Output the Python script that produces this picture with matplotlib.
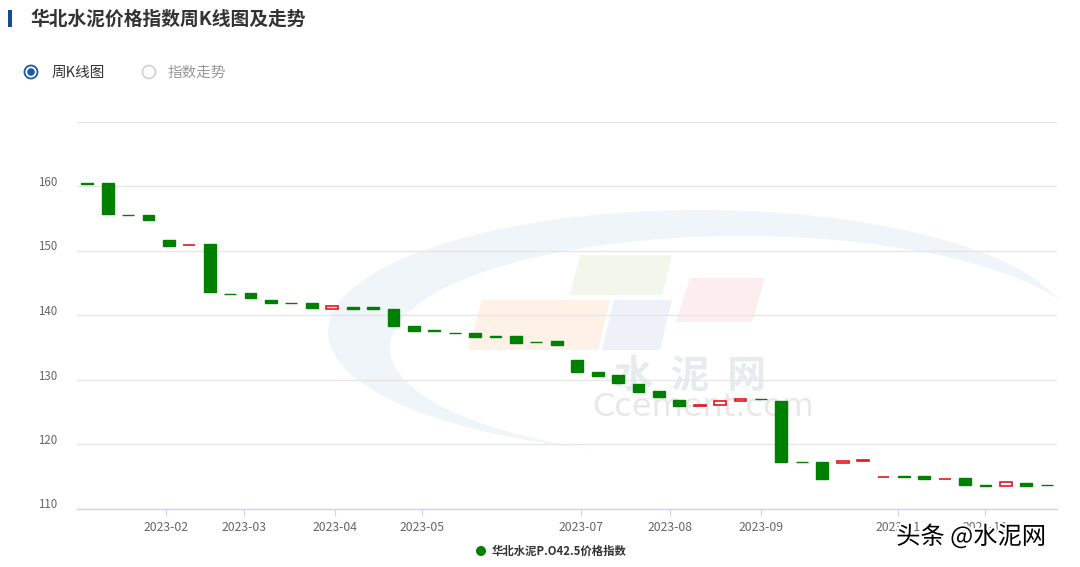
import matplotlib
matplotlib.use("Agg")
import matplotlib.pyplot as plt
import numpy as np
from matplotlib.patches import Circle, Rectangle, Polygon
from matplotlib.transforms import ScaledTranslation
import matplotlib.patheffects as pe

plt.rcParams['font.family'] = ['Noto Sans CJK SC', 'DejaVu Sans']

# ---------------- data ----------------
opens = [160.4, 160.5, 155.55, 155.5, 151.6, 150.8, 151.0, 143.3, 143.4, 142.4,
         141.9, 141.8, 140.9, 141.3, 141.3, 140.9, 138.35, 137.6, 137.2, 137.2,
         136.7, 136.75, 135.8, 135.9, 133.1, 131.2, 130.65, 129.3, 128.2, 126.8,
         125.9, 126.05, 126.6, 127.0, 126.7, 117.2, 117.25, 117.0, 117.35, 114.85,
         115.0, 115.0, 114.55, 114.7, 113.6, 113.5, 114.0, 113.65]
closes = [160.35, 155.6, 155.5, 154.7, 150.7, 150.9, 143.5, 143.25, 142.6, 141.9,
          141.85, 141.1, 141.35, 141.0, 140.9, 138.3, 137.5, 137.55, 137.15, 136.65,
          136.65, 135.6, 135.75, 135.35, 131.1, 130.6, 129.5, 128.1, 127.35, 125.9,
          126.1, 126.7, 127.0, 126.95, 117.2, 117.15, 114.5, 117.4, 117.45, 114.95,
          114.95, 114.5, 114.65, 113.6, 113.55, 114.1, 113.45, 113.6]
month_labels = ['2023-02', '2023-03', '2023-04', '2023-05', '2023-07',
                '2023-08', '2023-09', '2023-11', '2023-12']
month_tick_pos = [3.87, 7.68, 12.12, 16.40, 24.19, 28.54, 33.0, 39.71, 43.97]
y_ticks = [110, 120, 130, 140, 150, 160, 170]
series_name = '华北水泥P.O42.5价格指数'
title = '华北水泥价格指数周K线图及走势'

W, H = 1080, 567
fig = plt.figure(figsize=(W / 100, H / 100), dpi=100)
fig.patch.set_facecolor('white')

def P(x, y):
    return (x / W, 1 - y / H)

# ---------------- watermark (background) ----------------
bg = fig.add_axes([0, 0, 1, 1], zorder=0)
bg.set_xlim(0, W)
bg.set_ylim(H, 0)
bg.axis('off')
t = np.radians(np.linspace(25, 245, 120))
outer = np.c_[700 + 372 * np.cos(t), 332 - 122 * np.sin(t)]
inner = np.c_[742 + 352 * np.cos(t[::-1]), 348 - 112 * np.sin(t[::-1])]
bg.add_patch(Polygon(np.vstack([outer, inner]), closed=True, fc='#f0f5fa', ec='none'))
bg.add_patch(Polygon([(482, 300), (610, 300), (598, 350), (468, 350)], fc='#fdf1e8', ec='none'))
bg.add_patch(Polygon([(614, 300), (672, 300), (660, 350), (602, 350)], fc='#eef2f8', ec='none'))
bg.add_patch(Polygon([(690, 278), (765, 278), (752, 322), (676, 322)], fc='#fcedee', ec='none'))
bg.add_patch(Polygon([(580, 255), (672, 255), (662, 295), (570, 295)], fc='#f2f7ec', ec='none'))
bg.text(690, 376, '水  泥  网', fontsize=28, color='#e6ebf0', ha='center', va='center',
        fontweight='bold')
bg.text(703, 408, 'Ccement.com', fontsize=23, color='#e8e8e8', ha='center', va='center',
        family=['DejaVu Sans'])

# ---------------- main axes ----------------
x0, x1, ytop, ybot = 77, 1057, 121.5, 508.5
ax = fig.add_axes([x0 / W, 1 - ybot / H, (x1 - x0) / W, (ybot - ytop) / H], zorder=2)
ax.set_facecolor('none')
ax.set_xlim(-0.5, len(opens) - 0.5)
ax.set_ylim(110, 170)

for s in ['top', 'right', 'left']:
    ax.spines[s].set_visible(False)
ax.spines['bottom'].set_color('#ccd6eb')
ax.spines['bottom'].set_linewidth(1)

ax.set_yticks(y_ticks)
ax.set_yticklabels([str(v) for v in y_ticks])
ax.yaxis.grid(True, color='#e6e6e6', linewidth=1)
ax.set_axisbelow(True)
ax.tick_params(axis='y', length=0, pad=14, labelsize=8.3, labelcolor='#666666')
for lab in ax.get_yticklabels():
    lab.set_transform(lab.get_transform() + ScaledTranslation(0, 5 / 100, fig.dpi_scale_trans))
ax.get_yticklabels()[-1].set_visible(False)

ax.set_xticks(month_tick_pos)
ax.set_xticklabels(month_labels)
ax.tick_params(axis='x', length=5, color='#ccd6eb', pad=4, labelsize=8.8, labelcolor='#666666')

# candlesticks
green = '#008000'
red = '#e8141e'
idx = np.arange(len(opens))
o = np.array(opens)
c = np.array(closes)
rise = c > o
lo = np.minimum(o, c)
hi = np.maximum(o, c)
h = np.maximum(hi - lo, 0.02)
ax.bar(idx[~rise], h[~rise], bottom=lo[~rise], width=0.58, color=green,
       edgecolor=green, linewidth=1.0, zorder=3)
ax.bar(idx[rise], h[rise], bottom=lo[rise], width=0.58, color='white',
       edgecolor=red, linewidth=1.2, zorder=3)

# ---------------- header ----------------
fig.patches.append(Rectangle(P(8, 27), 4 / W, 17 / H, transform=fig.transFigure,
                             fc='#124e8f', ec='none'))
fig.text(*P(30, 19), title, fontsize=13.5, fontweight='bold', color='#333333',
         ha='left', va='center')

# radio buttons
bg.add_patch(Circle((31, 72), 6.5, fc='white', ec='#1a5aa0', lw=1.3))
bg.add_patch(Circle((31, 72), 3.8, fc='#1a5aa0', ec='none'))
fig.text(*P(52, 73), '周K线图', fontsize=10.5, color='#333333', ha='left', va='center')
bg.add_patch(Circle((149, 72), 6.5, fc='white', ec='#d0d0d0', lw=1.2))
fig.text(*P(168, 73), '指数走势', fontsize=10.5, color='#999999', ha='left', va='center')

# legend
bg.add_patch(Circle((481, 551), 5, fc=green, ec='none', zorder=5))
fig.text(*P(492, 551), series_name, fontsize=8.2, fontweight='bold', color='#333333',
         ha='left', va='center')

# source watermark text
fig.text(*P(971, 537), '头条 @水泥网', fontsize=17.5, color='black', ha='center', va='center',
         path_effects=[pe.withStroke(linewidth=3, foreground='white')], zorder=10)

fig.savefig('out.png', dpi=100, facecolor='white')
